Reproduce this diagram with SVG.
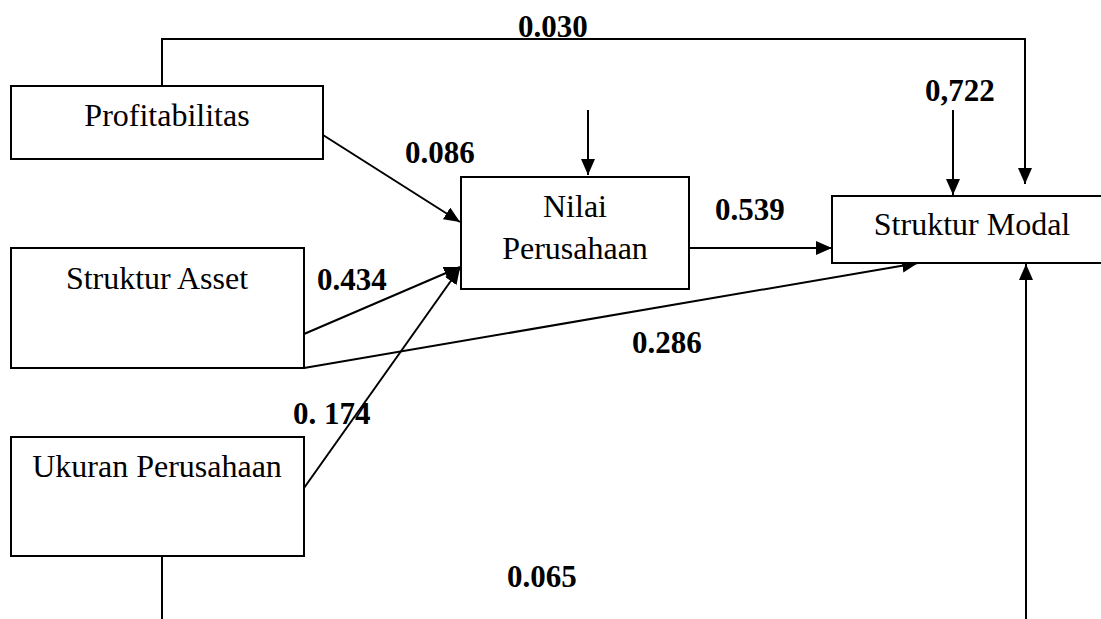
<svg xmlns="http://www.w3.org/2000/svg" width="1101" height="619" viewBox="0 0 1101 619">
<defs>
<marker id="ah" markerWidth="16" markerHeight="14" refX="16" refY="7" orient="auto" markerUnits="userSpaceOnUse">
<path d="M0,0 L16,7 L0,14 z" fill="#000"/>
</marker>
<style>
.box{fill:#fff;stroke:#000;stroke-width:2}
.lbl{font-family:"Liberation Serif","Times New Roman",serif;font-size:32px;fill:#000;text-anchor:middle}
.num{font-family:"Liberation Serif","Times New Roman",serif;font-size:31px;font-weight:bold;fill:#000}
.ln{fill:none;stroke:#000;stroke-width:2}
</style>
</defs>
<rect width="1101" height="619" fill="#fff"/>
<g id="connectors">
<path class="ln" d="M162,86 V39 H1025 V184" marker-end="url(#ah)"/>
<path class="ln" d="M953,110 V195" marker-end="url(#ah)"/>
<path class="ln" d="M588,110 V175" marker-end="url(#ah)"/>
<path class="ln" d="M323,135 L460,222" marker-end="url(#ah)"/>
<path class="ln" d="M304,334 L460,267" marker-end="url(#ah)"/>
<path class="ln" d="M304,488 L460,268" marker-end="url(#ah)"/>
<path class="ln" d="M689,248 H832" marker-end="url(#ah)"/>
<path class="ln" d="M304,368 L918,263" marker-end="url(#ah)"/>
<path class="ln" d="M162,556 V619"/>
<path class="ln" d="M1026,619 V264" marker-end="url(#ah)"/>
</g>
<g id="profitabilitas">
<rect class="box" x="11" y="86" width="312" height="73"/>
<text class="lbl" x="167" y="126">Profitabilitas</text>
</g>
<g id="struktur-asset">
<rect class="box" x="11" y="248" width="293" height="120"/>
<text class="lbl" x="157" y="289">Struktur Asset</text>
</g>
<g id="ukuran-perusahaan">
<rect class="box" x="11" y="437" width="293" height="119"/>
<text class="lbl" x="157" y="477">Ukuran Perusahaan</text>
</g>
<g id="nilai-perusahaan">
<rect class="box" x="461" y="177" width="228" height="112"/>
<text class="lbl" x="575" y="217">Nilai</text>
<text class="lbl" x="575" y="259">Perusahaan</text>
</g>
<g id="struktur-modal">
<rect class="box" x="832" y="196" width="280" height="67"/>
<text class="lbl" x="972" y="235">Struktur Modal</text>
</g>
<g id="labels">
<text class="num" x="518" y="37">0.030</text>
<text class="num" x="925" y="101">0,722</text>
<text class="num" x="405" y="163">0.086</text>
<text class="num" x="715" y="220">0.539</text>
<text class="num" x="317" y="290">0.434</text>
<text class="num" x="632" y="353">0.286</text>
<text class="num" x="293" y="424">0. 174</text>
<text class="num" x="507" y="587">0.065</text>
</g>
</svg>
